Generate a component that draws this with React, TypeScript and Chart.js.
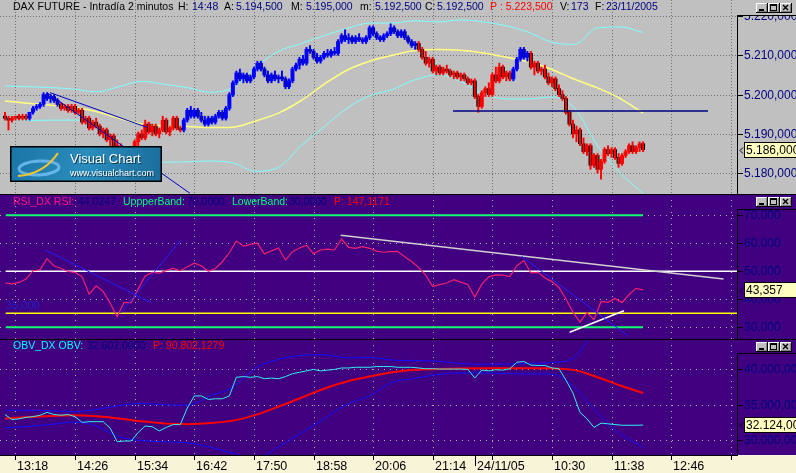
import { useEffect, useRef } from "react";
import { Chart, registerables } from "chart.js";

Chart.register(...registerables);

// ---------------- DATA ----------------
// 2-minute bars, bar index 0 = 13:18 (23/11/2005)
const FIRST_BAR = -6;
const BAR_STEP = 2;
const OPEN = [5194.5,5194.0,5193.5,5194.0,5194.5,5194.0,5194.5,5194.0,5195.5,5196.5,
 5197.0,5197.5,5200.0,5199.0,5199.5,5198.5,5197.5,5196.5,5197.0,5196.0,
 5197.0,5195.5,5196.0,5193.0,5194.0,5191.5,5193.0,5192.0,5190.0,5191.0,
 5188.5,5189.5,5187.0,5186.0,5185.0,5186.0,5184.0,5185.0,5188.0,5190.0,
 5189.0,5192.5,5190.5,5192.0,5190.0,5191.0,5193.5,5190.5,5191.5,5194.0,
 5191.5,5191.0,5193.5,5196.0,5194.5,5196.0,5194.5,5193.5,5192.5,5194.0,
 5193.0,5194.5,5195.5,5194.0,5196.5,5200.0,5203.0,5205.5,5204.0,5205.0,
 5203.5,5204.5,5206.5,5208.0,5206.5,5205.0,5203.5,5205.0,5204.0,5204.5,
 5204.0,5202.0,5203.5,5206.5,5207.5,5209.0,5208.0,5211.5,5211.0,5209.5,
 5208.5,5209.5,5210.5,5210.0,5211.0,5210.5,5213.5,5215.0,5214.0,5214.5,
 5213.5,5214.5,5214.0,5213.5,5214.5,5217.0,5215.5,5214.5,5214.0,5215.0,
 5215.5,5217.0,5216.0,5215.0,5216.0,5214.5,5213.5,5212.5,5213.0,5211.5,
 5209.5,5208.0,5209.0,5206.0,5207.0,5205.5,5206.5,5206.0,5205.0,5205.5,
 5204.5,5205.0,5204.0,5203.0,5203.5,5199.5,5197.0,5200.5,5201.5,5200.0,
 5205.0,5203.5,5207.0,5204.5,5205.5,5204.0,5206.5,5209.0,5211.5,5209.5,
 5210.5,5207.0,5208.0,5206.0,5206.5,5204.5,5203.0,5204.0,5201.5,5200.0,
 5199.0,5195.5,5192.5,5190.0,5191.0,5187.5,5185.5,5187.0,5182.0,5184.5,
 5181.0,5183.0,5186.0,5185.0,5186.0,5184.0,5182.5,5184.5,5185.5,5187.0,
 5185.5,5186.5,5187.5];
const HIGH = [5195.5,5194.5,5194.5,5194.5,5195.0,5195.0,5195.0,5195.5,5197.0,5197.5,
 5198.0,5200.5,5200.5,5200.0,5200.0,5199.0,5198.0,5197.5,5197.5,5197.5,
 5197.5,5196.5,5196.5,5194.5,5194.5,5193.5,5194.0,5192.5,5191.5,5191.5,
 5190.0,5190.0,5188.5,5187.5,5186.5,5186.5,5185.5,5188.5,5190.5,5191.0,
 5193.5,5193.0,5192.5,5192.5,5191.5,5194.5,5194.0,5192.0,5194.5,5194.5,
 5192.0,5194.0,5196.5,5197.0,5196.5,5196.5,5195.5,5194.5,5194.5,5194.5,
 5195.0,5196.0,5196.0,5197.0,5200.5,5203.5,5206.0,5206.5,5205.5,5205.5,
 5205.0,5207.0,5208.5,5208.5,5207.0,5206.0,5205.5,5206.0,5205.0,5206.0,
 5204.5,5204.0,5207.0,5208.0,5209.5,5210.0,5212.0,5212.5,5211.5,5210.5,
 5210.0,5211.0,5211.5,5211.5,5212.0,5214.0,5215.5,5216.5,5215.5,5215.0,
 5215.0,5215.5,5214.5,5215.0,5217.5,5217.5,5216.0,5215.0,5215.5,5216.0,
 5218.0,5217.5,5216.5,5216.5,5216.5,5215.0,5214.0,5213.5,5213.5,5212.0,
 5211.0,5209.5,5209.5,5207.5,5207.5,5207.0,5207.5,5206.5,5206.0,5206.0,
 5205.5,5205.5,5204.5,5204.0,5204.0,5200.0,5201.0,5202.0,5203.0,5205.5,
 5207.0,5208.0,5207.5,5206.0,5206.0,5207.0,5209.5,5212.0,5212.0,5211.0,
 5211.0,5208.5,5208.5,5207.0,5207.5,5205.5,5204.5,5204.5,5202.5,5201.0,
 5199.5,5196.0,5193.5,5192.0,5191.5,5189.0,5187.5,5187.5,5185.0,5185.0,
 5183.5,5186.5,5187.0,5186.5,5186.5,5185.0,5185.0,5186.0,5187.5,5188.0,
 5187.0,5188.0,5188.0];
const LOW = [5193.5,5191.0,5193.0,5193.5,5193.5,5193.5,5193.5,5193.5,5195.0,5196.0,
 5196.5,5197.0,5198.5,5198.0,5198.0,5197.0,5196.0,5196.0,5195.5,5195.5,
 5195.0,5195.0,5192.5,5192.5,5191.0,5191.0,5191.5,5189.5,5189.0,5188.0,
 5187.0,5186.5,5185.5,5184.5,5184.0,5183.5,5183.0,5184.5,5187.0,5188.5,
 5188.5,5190.0,5189.5,5189.5,5189.0,5190.5,5190.0,5189.5,5191.0,5191.0,
 5190.5,5190.5,5193.0,5194.0,5194.0,5194.0,5193.0,5192.0,5192.0,5192.5,
 5192.5,5194.0,5193.5,5193.5,5196.0,5199.5,5202.5,5203.5,5203.0,5203.0,
 5203.0,5204.0,5206.0,5206.0,5204.5,5203.0,5203.0,5203.5,5203.0,5203.5,
 5201.5,5201.5,5203.0,5206.0,5206.5,5207.5,5207.5,5210.5,5209.0,5208.0,
 5208.0,5209.0,5209.5,5209.5,5210.0,5210.0,5213.0,5213.5,5213.0,5213.0,
 5213.0,5213.5,5213.0,5213.0,5214.0,5215.0,5214.0,5213.5,5213.5,5214.5,
 5215.0,5215.5,5214.5,5214.5,5214.0,5213.0,5212.0,5211.5,5211.0,5209.0,
 5207.5,5207.0,5205.5,5205.0,5205.0,5205.0,5205.5,5204.5,5204.0,5204.0,
 5203.5,5203.5,5202.5,5202.5,5199.0,5195.5,5196.5,5199.5,5199.5,5199.5,
 5203.0,5203.0,5204.0,5203.5,5203.5,5203.5,5206.0,5208.5,5209.0,5208.5,
 5206.5,5205.0,5205.5,5205.0,5204.0,5202.5,5202.0,5201.0,5199.5,5198.5,
 5195.0,5192.0,5189.0,5188.0,5187.0,5185.0,5184.5,5181.0,5181.5,5180.0,
 5178.5,5182.5,5184.5,5184.0,5183.5,5181.5,5182.0,5184.0,5185.0,5185.0,
 5185.0,5185.5,5185.5];
const CLOSE = [5194.0,5193.5,5194.0,5194.5,5194.0,5194.5,5194.0,5195.5,5196.5,5197.0,
 5197.5,5200.0,5199.0,5199.5,5198.5,5197.5,5196.5,5197.0,5196.0,5197.0,
 5195.5,5196.0,5193.0,5194.0,5191.5,5193.0,5192.0,5190.0,5191.0,5188.5,
 5189.5,5187.0,5186.0,5185.0,5186.0,5184.0,5185.0,5188.0,5190.0,5189.0,
 5192.5,5190.5,5192.0,5190.0,5191.0,5193.5,5190.5,5191.5,5194.0,5191.5,
 5191.0,5193.5,5196.0,5194.5,5196.0,5194.5,5193.5,5192.5,5194.0,5193.0,
 5194.5,5195.5,5194.0,5196.5,5200.0,5203.0,5205.5,5204.0,5205.0,5203.5,
 5204.5,5206.5,5208.0,5206.5,5205.0,5203.5,5205.0,5204.0,5204.5,5204.0,
 5202.0,5203.5,5206.5,5207.5,5209.0,5208.0,5211.5,5211.0,5209.5,5208.5,
 5209.5,5210.5,5210.0,5211.0,5210.5,5213.5,5215.0,5214.0,5214.5,5213.5,
 5214.5,5214.0,5213.5,5214.5,5217.0,5215.5,5214.5,5214.0,5215.0,5215.5,
 5217.0,5216.0,5215.0,5216.0,5214.5,5213.5,5212.5,5213.0,5211.5,5209.5,
 5208.0,5209.0,5206.0,5207.0,5205.5,5206.5,5206.0,5205.0,5205.5,5204.5,
 5205.0,5204.0,5203.0,5203.5,5199.5,5197.0,5200.5,5201.5,5200.0,5205.0,
 5203.5,5207.0,5204.5,5205.5,5204.0,5206.5,5209.0,5211.5,5209.5,5210.5,
 5207.0,5208.0,5206.0,5206.5,5204.5,5203.0,5204.0,5201.5,5200.0,5199.0,
 5195.5,5192.5,5190.0,5191.0,5187.5,5185.5,5187.0,5182.0,5184.5,5181.0,
 5183.0,5186.0,5185.0,5186.0,5184.0,5182.5,5184.5,5185.5,5187.0,5185.5,
 5186.5,5187.5,5186.0];
// bar colouring state, run-length: B = above average (blue), R = below (red)
const TREND_RUNS: Array<[string, number]> = [["R", 7], ["B", 9], ["R", 35], ["B", 67], ["R", 27], ["B", 5], ["R", 33]];

// smooth curves sampled every 13 bars
const CURVE_FIRST = -6;
const CURVE_STEP = 13;
const PRICE_AVG = [5198.4,5197.8,5197.3,5196.8,5195.7,5194.0,5192.5,5192.0,5191.9,5191.6,5191.7,5193.3,5195.3,5198.5,5202.6,5206.2,5208.5,5210.0,5211.2,5211.5,5211.3,5210.6,5209.5,5208.3,5206.4,5203.9,5201.7,5199.0,5195.3];
const PRICE_BAND_UP = [5202.2,5202.0,5201.8,5201.4,5200.7,5202.0,5203.4,5202.6,5201.8,5200.6,5201.8,5207.0,5211.0,5213.0,5215.0,5216.8,5218.2,5218.2,5218.8,5218.5,5219.0,5218.5,5217.5,5215.8,5213.3,5212.8,5217.0,5217.2,5215.8];
const PRICE_BAND_LO = [5193.7,5193.4,5193.5,5193.5,5192.5,5185.3,5183.2,5182.8,5182.9,5183.1,5182.6,5180.5,5181.5,5187.0,5191.8,5196.5,5199.7,5201.3,5203.8,5205.0,5203.3,5200.2,5198.9,5198.9,5199.4,5196.5,5187.0,5180.0,5174.9];

// oscillators sampled every 4 bars
const OSC_FIRST = -6;
const OSC_STEP = 4;
const RSI = [45.8,45.5,46.0,47.2,50.2,50.6,54.5,51.9,51.0,49.9,
 49.6,48.0,41.8,44.8,42.8,38.6,33.8,38.9,38.8,43.7,
 48.3,49.6,49.3,50.3,51.0,50.2,51.6,52.9,52.0,50.0,
 51.0,53.4,56.6,60.8,59.0,59.6,60.0,56.2,57.3,58.3,
 54.0,57.0,58.3,59.3,56.3,57.6,57.9,57.6,61.5,58.5,
 58.2,58.8,58.2,57.2,56.8,57.0,57.1,55.2,53.5,51.3,
 48.6,44.5,45.2,45.8,47.0,46.1,45.3,40.8,45.4,48.0,
 48.7,48.6,48.1,52.0,53.8,49.4,49.6,47.6,46.3,44.2,
 40.1,35.4,31.8,35.2,32.8,39.2,38.9,40.3,38.8,41.7,
 43.9,43.36];
const OBV = [33600,32900,33000,33200,33300,33500,33900,33600,33500,33600,
 33300,32500,32600,32600,32600,31700,29800,29900,29900,31100,
 32000,31900,31300,31800,32200,32200,34500,36200,36200,35700,
 35800,35800,36200,38800,38900,38800,38900,38600,38700,38600,
 38900,39300,39500,39700,39900,39700,39800,39900,40100,40100,
 40200,40200,40200,40300,40300,40300,40200,40200,40200,40100,
 40000,40000,39950,39950,39950,39950,39900,38700,39800,39700,
 39850,39800,40000,40900,41000,40500,40450,40450,40100,40000,
 38400,36600,33900,33000,31800,32400,32300,32200,32100,32100,
 32100,32124];
const OBV_AVG = [33050,33250,33400,33500,33350,33050,32650,32350,32250,32400,32750,33550,34700,35950,37200,38200,38900,39500,39850,39950,40020,40050,40050,40080,40050,39800,38800,37650,36600];
const OBV_BAND_UP = [34200,34200,34150,34000,34300,34850,35150,34950,34900,36200,37400,40100,41300,41850,41950,41500,41550,41200,41120,41050,40700,40630,40650,40740,40860,41600,46000,48000,49000];
const OBV_BAND_LO = [31750,31950,32200,32550,32000,30500,29950,29800,29650,29050,28200,27400,29100,31000,33000,35000,36200,38100,38650,39200,39400,39400,39330,39260,39260,37300,33800,30900,29000];

// drawn objects: [barA, valueA, barB, valueB]
const PRICE_TREND_LINES = [[18.0, 5200.5, 99.5, 5174.9], [19.7, 5200.5, 74.8, 5191.7]];
const PRICE_LEVEL_LINE = [249.6, 5195.8, 395.0, 5195.8];
const RSI_BLUE_LINES = [[17.3, 57.5, 76.7, 39.0], [59.8, 35.0, 94.2, 61.1], [288.6, 55.4, 349.2, 27.0]];
const RSI_GRAY_LINE = [185.5, 62.9, 403.9, 47.2];
const RSI_WHITE_LINE = [316.1, 28.2, 347.1, 35.9];
const RSI_BANDS = [70, 30];
const RSI_WHITE_LEVEL = 50;
const RSI_YELLOW_LEVEL = 35;

const LAST_PRICE = 5186.0;
const LAST_RSI = 43.357;
const LAST_OBV = 32124;

const PRICE_TICKS = [5180, 5190, 5200, 5210, 5220];
const RSI_TICKS = [30, 40, 50, 60, 70];
const OBV_TICKS = [30000, 35000, 40000];
const TIME_TICKS = [0, 34, 68, 102, 136, 170, 204, 238, 272, 306, 340, 374, 408];
const TIME_LABELS = ["13:18", "14:26", "15:34", "16:42", "17:50", "18:58", "20:06", "21:14", "", "10:30", "11:38", "12:46", ""];
const DAY_BREAK = 262;
const DAY_LABEL = "24/11/05";

// ---------------- LAYOUT / STYLE ----------------
const W = 796;
const AXIS_W = 59;
const X_MIN = -8.84;
const X_MAX = 411.57;
const GRAY = "#C0C0C0";
const PURPLE = "#400080";
const CREAM = "#F8F4D8";
const NAVY = "#000080";
const FONT = "'Liberation Sans', Arial, sans-serif";

type Seg = [string, string, number];

function fmtEs(v: number, dec: number) {
  const s = v.toFixed(dec);
  const parts = s.split(".");
  const int = parts[0].replace(/\B(?=(\d{3})+(?!\d))/g, ".");
  return parts[1] ? int + "," + parts[1] : int;
}

function pts(values: number[], first: number, step: number) {
  return values.map((v, i) => ({ x: first + i * step, y: v }));
}
function seg(l: number[]) {
  return [{ x: l[0], y: l[1] }, { x: l[2], y: l[3] }];
}
function lineDs(data: any[], color: string, width: number, order: number, smooth = false) {
  return {
    type: "line",
    data,
    borderColor: color,
    borderWidth: width,
    pointRadius: 0,
    fill: false,
    order,
    tension: 0,
    cubicInterpolationMode: smooth ? "monotone" : "default",
  };
}

function drawGrid(chart: any, yTicks: number[], color: string, dash: number[]) {
  const { ctx, chartArea: a, scales } = chart;
  ctx.save();
  ctx.strokeStyle = color;
  ctx.lineWidth = 1;
  ctx.setLineDash(dash);
  ctx.beginPath();
  for (const t of TIME_TICKS) {
    const x = Math.round(scales.x.getPixelForValue(t)) + 0.5;
    ctx.moveTo(x, a.top);
    ctx.lineTo(x, a.bottom);
  }
  for (const v of yTicks) {
    const y = Math.round(scales.y.getPixelForValue(v)) + 0.5;
    ctx.moveTo(a.left, y);
    ctx.lineTo(a.right, y);
  }
  ctx.stroke();
  ctx.restore();
}

function drawButtons(ctx: CanvasRenderingContext2D, top: number) {
  [756, 768, 780].forEach((x, i) => {
    const w = 12, h = 10;
    ctx.fillStyle = "#C0C0C0"; ctx.fillRect(x, top, w, h);
    ctx.fillStyle = "#FFFFFF"; ctx.fillRect(x, top, w - 1, 1); ctx.fillRect(x, top, 1, h - 1);
    ctx.fillStyle = "#808080"; ctx.fillRect(x + 1, top + h - 2, w - 2, 1); ctx.fillRect(x + w - 2, top + 1, 1, h - 2);
    ctx.fillStyle = "#000000"; ctx.fillRect(x, top + h - 1, w, 1); ctx.fillRect(x + w - 1, top, 1, h);
    if (i === 0) {
      ctx.fillRect(x + 3, top + 6, 5, 2);
    } else if (i === 1) {
      ctx.fillRect(x + 2, top + 1, 7, 2);
      ctx.fillRect(x + 2, top + 1, 1, 7);
      ctx.fillRect(x + 8, top + 1, 1, 7);
      ctx.fillRect(x + 2, top + 7, 7, 1);
    } else {
      ctx.strokeStyle = "#000"; ctx.lineWidth = 1.4;
      ctx.beginPath();
      ctx.moveTo(x + 3, top + 2); ctx.lineTo(x + 8, top + 7);
      ctx.moveTo(x + 8, top + 2); ctx.lineTo(x + 3, top + 7);
      ctx.stroke();
    }
  });
}

function drawRightAxis(chart: any, ticks: number[], fmt: (v: number) => string, boxTop: number, last: number, lastText: string) {
  const { ctx, chartArea: a, scales } = chart;
  const x0 = a.right;
  ctx.save();
  ctx.fillStyle = "#000";
  ctx.fillRect(x0, boxTop, 1, a.bottom - boxTop);
  ctx.fillRect(x0, boxTop, W - x0, 1);
  ctx.beginPath();
  ctx.rect(x0 + 1, boxTop + 1, W - x0, a.bottom - boxTop - 1);
  ctx.clip();
  ctx.font = "12px " + FONT;
  ctx.textBaseline = "middle";
  ctx.textAlign = "left";
  for (const t of ticks) {
    const py = Math.round(scales.y.getPixelForValue(t));
    ctx.fillStyle = "#000";
    ctx.fillRect(x0, py, 6, 1);
    ctx.fillStyle = NAVY;
    ctx.fillText(fmt(t), x0 + 7, py + 1);
  }
  const vy = Math.round(scales.y.getPixelForValue(last));
  ctx.fillStyle = "#FFFFC0";
  ctx.fillRect(x0 + 7, vy - 8, 60, 16);
  ctx.strokeStyle = "#000";
  ctx.lineWidth = 1;
  ctx.strokeRect(x0 + 7.5, vy - 7.5, 60, 15);
  ctx.fillStyle = "#000";
  ctx.fillText(lastText, x0 + 9, vy + 1);
  ctx.beginPath();
  ctx.moveTo(x0 + 6, vy - 2.5); ctx.lineTo(x0 + 3, vy + 0.5); ctx.lineTo(x0 + 6, vy + 3.5);
  ctx.stroke();
  ctx.restore();
}

function drawSegments(ctx: CanvasRenderingContext2D, segs: Seg[], y: number, font: string) {
  ctx.save();
  ctx.font = font;
  ctx.textBaseline = "middle";
  ctx.textAlign = "left";
  for (const [text, color, x] of segs) {
    ctx.fillStyle = color;
    ctx.fillText(text, x, y);
  }
  ctx.restore();
}

function drawLogo(ctx: CanvasRenderingContext2D) {
  const x = 10, y = 146, w = 152, h = 36;
  ctx.save();
  const g = ctx.createLinearGradient(x, y, x + w, y + h);
  g.addColorStop(0, "#1B74A4");
  g.addColorStop(0.5, "#2A8DBE");
  g.addColorStop(1, "#1A6C9A");
  ctx.fillStyle = g;
  ctx.fillRect(x, y, w, h);
  ctx.strokeStyle = "#000";
  ctx.lineWidth = 1.5;
  ctx.strokeRect(x + 0.75, y + 0.75, w - 1.5, h - 1.5);
  ctx.strokeStyle = "rgba(110,190,240,0.85)";
  ctx.lineWidth = 3;
  ctx.beginPath();
  ctx.ellipse(x + 29, y + 22, 20, 7, -0.05, 0, Math.PI * 2);
  ctx.stroke();
  ctx.strokeStyle = "#F2C230";
  ctx.lineWidth = 2.2;
  ctx.beginPath();
  ctx.moveTo(x + 8, y + 30);
  ctx.quadraticCurveTo(x + 34, y + 28, x + 48, y + 7);
  ctx.stroke();
  ctx.shadowColor = "rgba(0,0,0,0.6)";
  ctx.shadowOffsetX = 1;
  ctx.shadowOffsetY = 1;
  ctx.fillStyle = "#FFFFFF";
  ctx.font = "13px " + FONT;
  ctx.textBaseline = "alphabetic";
  ctx.fillText("Visual Chart", x + 60, y + 17);
  ctx.font = "9px " + FONT;
  ctx.fillText("www.visualchart.com", x + 60, y + 30);
  ctx.restore();
}

function drawTimeAxis(chart: any) {
  const { ctx, chartArea: a, scales } = chart;
  const y0 = a.bottom;
  ctx.save();
  ctx.fillStyle = "#000";
  ctx.fillRect(0, y0, a.right + 1, 1);
  ctx.font = "12.5px 'Liberation Sans Narrow', 'Arial Narrow', " + FONT;
  ctx.textBaseline = "middle";
  ctx.textAlign = "left";
  TIME_TICKS.forEach((t, i) => {
    const px = Math.round(scales.x.getPixelForValue(t));
    ctx.fillRect(px, y0, 1, 5);
    if (TIME_LABELS[i]) ctx.fillText(TIME_LABELS[i], px + 2, y0 + 12);
  });
  const dx = Math.round(scales.x.getPixelForValue(DAY_BREAK));
  ctx.fillRect(dx, y0, 1, 11);
  ctx.fillText(DAY_LABEL, dx + 2, y0 + 12);
  ctx.restore();
}

function panelPlugin(cfg: any) {
  return {
    id: cfg.id,
    beforeDraw(chart: any) {
      const { ctx, chartArea: a } = chart;
      ctx.save();
      ctx.fillStyle = cfg.bg;
      ctx.fillRect(0, 0, chart.width, chart.height);
      if (cfg.timeAxis) {
        ctx.fillStyle = CREAM;
        ctx.fillRect(0, a.bottom, chart.width, chart.height - a.bottom);
      }
      ctx.restore();
    },
    beforeDatasetsDraw(chart: any) {
      drawGrid(chart, cfg.yTicks, cfg.gridColor, cfg.gridDash);
    },
    afterDatasetsDraw(chart: any) {
      const { ctx } = chart;
      if (cfg.extra) cfg.extra(chart);
      drawRightAxis(chart, cfg.yTicks, cfg.fmt, cfg.boxTop, cfg.last, cfg.lastText);
      drawSegments(ctx, cfg.header, cfg.headerY, cfg.headerFont);
      drawButtons(ctx, 3);
      if (cfg.topLine) {
        ctx.save();
        ctx.fillStyle = "#000";
        ctx.fillRect(0, 0, chart.width, 1);
        ctx.restore();
      }
      if (cfg.timeAxis) drawTimeAxis(chart);
    },
  };
}

function baseOptions(yMin: number, yMax: number, bottomPad: number) {
  return {
    animation: false,
    responsive: false,
    devicePixelRatio: 1,
    events: [],
    layout: { padding: { left: 0, right: AXIS_W, top: 0, bottom: bottomPad } },
    plugins: { legend: { display: false }, tooltip: { enabled: false } },
    scales: {
      x: { type: "linear", min: X_MIN, max: X_MAX, display: false, offset: false },
      y: { type: "linear", min: yMin, max: yMax, display: false },
    },
  };
}

function priceConfig() {
  const trend: string[] = [];
  TREND_RUNS.forEach(([t, n]) => { for (let i = 0; i < n; i++) trend.push(t); });
  const xs = CLOSE.map((_, i) => FIRST_BAR + i * BAR_STEP);
  const wick = xs.map((x, i) => ({ x, y: [LOW[i], HIGH[i]] }));
  const body = xs.map((x, i) => ({ x, y: [OPEN[i], CLOSE[i]] }));
  const wickColors = trend.map((t) => (t === "B" ? "#0000FF" : "#FF0000"));
  const bodyColors = CLOSE.map((c, i) =>
    c > OPEN[i] ? (trend[i] === "B" ? "#0000FF" : "#FF0000") : trend[i] === "B" ? "#000080" : "#000000"
  );
  const header: Seg[] = [
    ["DAX FUTURE - Intradía 2 minutos", "#000", 13],
    ["H:", "#000", 178], ["14:48", NAVY, 192],
    ["A:", "#000", 224], ["5.194,500", NAVY, 236],
    ["M:", "#000", 291], ["5.195,000", NAVY, 306],
    ["m:", "#000", 360], ["5.192,500", NAVY, 375],
    ["C:", "#000", 425], ["5.192,500", NAVY, 437],
    ["P : 5.223,500", "#FF0000", 490],
    ["V:", "#000", 560], ["173", NAVY, 571],
    ["F:", "#000", 595], ["23/11/2005", NAVY, 606],
  ];
  return {
    type: "bar",
    data: {
      datasets: [
        ...PRICE_TREND_LINES.map((l) => lineDs(seg(l), "#0000C8", 1, 0)),
        lineDs(seg(PRICE_LEVEL_LINE), NAVY, 1.5, 0),
        { type: "bar", data: wick, backgroundColor: wickColors, barThickness: 1.3, grouped: false, borderWidth: 0, order: 1 },
        { type: "bar", data: body, backgroundColor: bodyColors, barThickness: 3.3, grouped: false, borderWidth: 0, order: 2 },
        lineDs(pts(PRICE_AVG, CURVE_FIRST, CURVE_STEP), "#FFFF80", 1.5, 3, true),
        lineDs(pts(PRICE_BAND_UP, CURVE_FIRST, CURVE_STEP), "#80FFFF", 1, 3, true),
        lineDs(pts(PRICE_BAND_LO, CURVE_FIRST, CURVE_STEP), "#80FFFF", 1, 3, true),
      ],
    },
    options: baseOptions(5174.71, 5224.07, 0),
    plugins: [
      panelPlugin({
        id: "pricePanel", bg: GRAY, gridColor: "#707070", gridDash: [1, 2], yTicks: PRICE_TICKS,
        fmt: (v: number) => fmtEs(v, 3), boxTop: 15, last: LAST_PRICE, lastText: fmtEs(LAST_PRICE, 3),
        header, headerY: 7, headerFont: "10.5px " + FONT,
        extra: (chart: any) => drawLogo(chart.ctx),
      }),
    ],
  };
}

function rsiConfig() {
  const header: Seg[] = [
    ["RSI_DX RSI:", "#FF1080", 13], ["44,0247", NAVY, 78],
    ["UppperBand:", "#00FF80", 123], ["70,0000", NAVY, 187],
    ["LowerBand:", "#00FF80", 232], ["30,0000", NAVY, 289],
    ["P: 147,1171", "#FF0000", 334],
  ];
  const dataEnd = OSC_FIRST + (RSI.length - 1) * OSC_STEP;
  const left = OSC_FIRST + 0.4;
  return {
    type: "line",
    data: {
      datasets: [
        ...RSI_BLUE_LINES.map((l) => lineDs(seg(l), "#2020FF", 1, 0)),
        lineDs(seg(RSI_GRAY_LINE), "#D0D0D0", 1.5, 0),
        lineDs(seg(RSI_WHITE_LINE), "#FFFFFF", 1.5, 0),
        lineDs(pts(RSI, OSC_FIRST, OSC_STEP), "#F02070", 1.2, 1),
        ...RSI_BANDS.map((v) => lineDs([{ x: left, y: v }, { x: dataEnd, y: v }], "#10FF70", 2, 2)),
        lineDs([{ x: left, y: RSI_WHITE_LEVEL }, { x: X_MAX, y: RSI_WHITE_LEVEL }], "#FFFFFF", 1.5, 2),
        lineDs([{ x: left, y: RSI_YELLOW_LEVEL }, { x: X_MAX, y: RSI_YELLOW_LEVEL }], "#FFFF00", 1.5, 2),
      ],
    },
    options: baseOptions(25.8, 77.6, 0),
    plugins: [
      panelPlugin({
        id: "rsiPanel", bg: PURPLE, gridColor: "#B0B0A0", gridDash: [1, 5], yTicks: RSI_TICKS,
        fmt: (v: number) => fmtEs(v, 3), boxTop: 15, last: LAST_RSI, lastText: fmtEs(LAST_RSI, 3),
        header, headerY: 8.5, headerFont: "10.5px " + FONT, topLine: true,
        extra: (chart: any) => {
          const { ctx, scales } = chart;
          ctx.save();
          ctx.font = "11px " + FONT;
          ctx.fillStyle = "#2020C8";
          ctx.textBaseline = "alphabetic";
          ctx.fillText(fmtEs(RSI_YELLOW_LEVEL, 3), 6, scales.y.getPixelForValue(RSI_YELLOW_LEVEL) - 4);
          ctx.restore();
        },
      }),
    ],
  };
}

function obvConfig() {
  const header: Seg[] = [
    ["OBV_DX OBV:", "#00FFFF", 13], ["32.602,0000", NAVY, 87],
    ["P: 90.802,1279", "#FF0000", 153],
  ];
  return {
    type: "line",
    data: {
      datasets: [
        lineDs(pts(OBV, OSC_FIRST, OSC_STEP), "#30F0F0", 1, 1),
        lineDs(pts(OBV_AVG, CURVE_FIRST, CURVE_STEP), "#FF0000", 2, 2, true),
        lineDs(pts(OBV_BAND_UP, CURVE_FIRST, CURVE_STEP), "#1010FF", 1, 3, true),
        lineDs(pts(OBV_BAND_LO, CURVE_FIRST, CURVE_STEP), "#1010FF", 1, 3, true),
      ],
    },
    options: baseOptions(27947, 44148, 18),
    plugins: [
      panelPlugin({
        id: "obvPanel", bg: PURPLE, gridColor: "#B0B0A0", gridDash: [1, 5], yTicks: OBV_TICKS,
        fmt: (v: number) => fmtEs(v, 2), boxTop: 14, last: LAST_OBV, lastText: fmtEs(LAST_OBV, 3),
        header, headerY: 7, headerFont: "10.5px " + FONT, topLine: true, timeAxis: true,
      }),
    ],
  };
}

function Panel({ top, height, make }: { top: number; height: number; make: () => any }) {
  const ref = useRef<HTMLCanvasElement>(null);
  useEffect(() => {
    const chart = new Chart(ref.current as HTMLCanvasElement, make());
    return () => chart.destroy();
  }, []);
  return (
    <canvas
      ref={ref}
      width={W}
      height={height}
      style={{ position: "absolute", left: 0, top, width: W, height, display: "block" }}
    />
  );
}

export default function App() {
  return (
    <div style={{ position: "fixed", left: 0, top: 0, width: W, height: 473, overflow: "hidden", background: GRAY }}>
      <Panel top={0} height={194} make={priceConfig} />
      <Panel top={194} height={145} make={rsiConfig} />
      <Panel top={339} height={134} make={obvConfig} />
    </div>
  );
}
